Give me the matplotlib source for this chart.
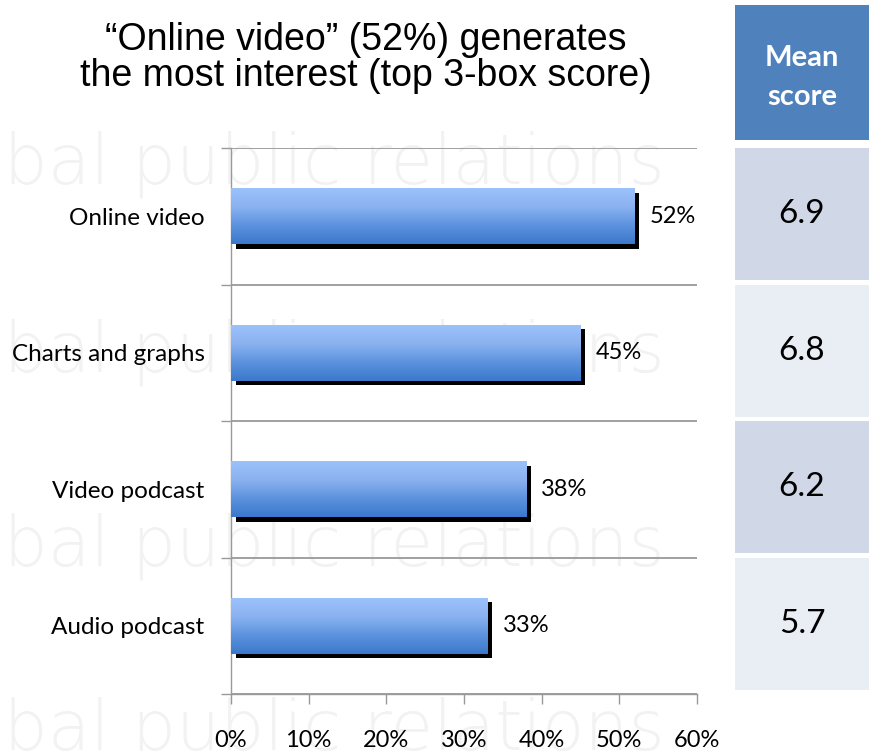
import numpy as np
import matplotlib
matplotlib.use('Agg')
import matplotlib.pyplot as plt
import matplotlib.patheffects as pe
from matplotlib.patches import Rectangle
from matplotlib.colors import LinearSegmentedColormap

# data
categories = ['Online video', 'Charts and graphs', 'Video podcast', 'Audio podcast']
interest = [52, 45, 38, 33]          # top 3-box score, %
mean_scores = ['6.9', '6.8', '6.2', '5.7']
xticks = [0, 10, 20, 30, 40, 50, 60]

title_font = 'Liberation Sans'
body_font = 'Lato'

fig = plt.figure(figsize=(8.69, 7.51), dpi=100)
W, H = 869, 751

def fx(px):
    return px / W

def fy(py):
    return 1 - py / H

# faint watermark on a background layer
bg = fig.add_axes([0, 0, 1, 1], zorder=-10)
bg.axis('off')
for yb in [183, 372, 565, 750]:
    bg.text(fx(-100), fy(yb), 'global public relations', fontsize=50, color='#f2f2f2',
            family='DejaVu Sans', fontweight='light', ha='left', va='baseline',
            transform=bg.transAxes)

# title
fig.text(fx(366), fy(58), '\u201cOnline video\u201d (52%) generates\nthe most interest (top 3-box score)',
         ha='center', va='center', fontsize=27, family=title_font, linespacing=1.0)

# main bar chart
ax = fig.add_axes([fx(231), fy(694), fx(697) - fx(231), fy(148) - fy(694)])
ax.patch.set_alpha(0)
y = np.arange(len(categories))
bh = 0.41
bars = ax.barh(y, interest, height=bh, color='#6A9BE0', zorder=3)
shadow = [pe.SimplePatchShadow(offset=(3.3, -3.2), shadow_rgbFace='black', alpha=1.0), pe.Normal()]
cmap = LinearSegmentedColormap.from_list('barfill', ['#9CC2FB', '#8AB2F0', '#5C92DE', '#3B78CB'])
grad = np.linspace(0, 1, 256).reshape(-1, 1)
for b, v in zip(bars, interest):
    b.set_path_effects(shadow)
    yc = b.get_y()
    im = ax.imshow(grad, cmap=cmap, aspect='auto', zorder=4,
                   extent=(0, v, yc, yc + b.get_height()), origin='lower')
    im.set_clip_path(b)
    ax.annotate(f'{v}%', xy=(v, yc + b.get_height() / 2), xytext=(11, 0),
                textcoords='offset points', va='center', ha='left',
                fontsize=17, family=body_font)

ax.set_xlim(0, 60)
ax.set_ylim(len(categories) - 0.5, -0.5)
ax.set_xticks(xticks)
ax.set_xticklabels([f'{t}%' for t in xticks], fontsize=17, family=body_font)
ax.tick_params(axis='x', length=7, color='#999999', width=1, pad=19)

# category boundaries carry the gridlines and ticks, labels sit at centers
ax.set_yticks(np.arange(-0.5, len(categories)), minor=False)
ax.set_yticklabels([])
ax.set_yticks(y, minor=True)
ax.set_yticklabels(categories, minor=True, fontsize=17.5, family=body_font)
ax.tick_params(axis='y', which='major', length=7, color='#999999', width=1)
ax.tick_params(axis='y', which='minor', length=0, pad=19)
ax.yaxis.grid(True, which='major', color='#999999', linewidth=1.3, zorder=1)
for s in ['top', 'right']:
    ax.spines[s].set_visible(False)
for s in ['left', 'bottom']:
    ax.spines[s].set_color('#999999')
    ax.spines[s].set_linewidth(1)

# mean score table on the right
tab = fig.add_axes([fx(735), fy(694), 1 - fx(735), fy(148) - fy(694)])
tab.set_xlim(0, 1)
tab.set_ylim(len(categories) - 0.5, -0.5)
tab.axis('off')
gap = 0.03
row_colors = ['#D0D8E8', '#E9EDF4']
for i, s in enumerate(mean_scores):
    tab.add_patch(Rectangle((0, i - 0.5), 1, 1 - gap, color=row_colors[i % 2], lw=0))
    tab.text(0.5, i - gap / 2, s, ha='center', va='center', fontsize=24, family=body_font)

hdr = fig.add_axes([fx(735), fy(140), 1 - fx(735), fy(5) - fy(140)])
hdr.axis('off')
hdr.add_patch(Rectangle((0, 0), 1, 1, color='#4F81BD', lw=0))
hdr.text(0.5, 0.605, 'Mean', ha='center', va='center', fontsize=21, fontweight='bold',
         color='white', family=body_font)
hdr.text(0.5, 0.32, 'score', ha='center', va='center', fontsize=21, fontweight='bold',
         color='white', family=body_font)

fig.savefig('out.png', dpi=100)
